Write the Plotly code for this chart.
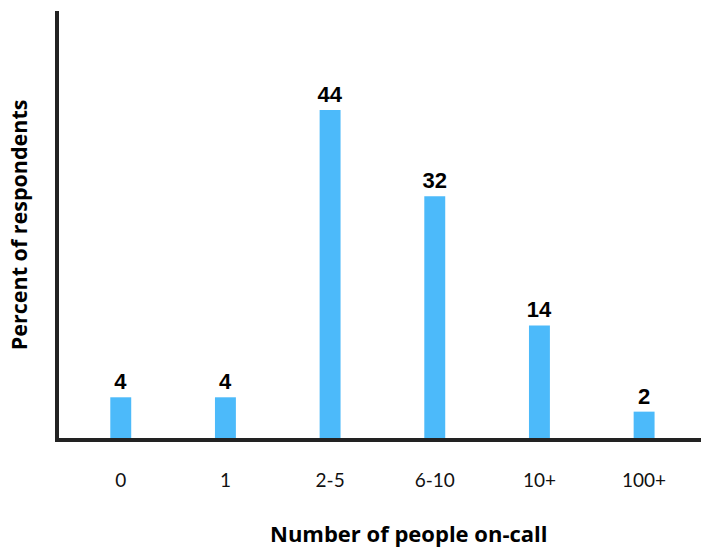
import plotly.graph_objects as go

categories = ["0", "1", "2-5", "6-10", "10+", "100+"]
values = [4, 4, 44, 32, 14, 2]
value_labels = ["4", "4", "44", "32", "14", "2"]

x_title = "Number of people on-call"
y_title = "Percent of respondents"

BASE = -1.67

fig = go.Figure()
fig.add_trace(go.Bar(
    x=categories,
    y=[v - BASE for v in values],
    base=BASE,
    width=0.2,
    marker=dict(color="#4cbafa", line=dict(width=0)),
    text=value_labels,
    textposition="outside",
    constraintext="none",
    textfont=dict(family="Liberation Sans", size=22, color="#000000"),
    texttemplate="<b>%{text}</b>",
    cliponaxis=False,
    hoverinfo="skip",
))

fig.update_layout(
    width=701, height=540,
    margin=dict(l=51, r=0, t=3, b=110),
    paper_bgcolor="white", plot_bgcolor="white",
    showlegend=False,
    xaxis=dict(
        type="category",
        range=[-0.59, 5.62],
        showline=True, linewidth=4, linecolor="#222222",
        showgrid=False, zeroline=False,
        ticks="", ticklabelstandoff=22,
        tickfont=dict(family="Lato", size=19, color="#111111"),
    ),
    yaxis=dict(
        range=[BASE, 57.8],
        showline=True, linewidth=4, linecolor="#222222",
        showgrid=False, zeroline=False,
        showticklabels=False, ticks="",
    ),
    annotations=[
        dict(
            text="<b>" + x_title + "</b>",
            xref="paper", yref="paper", x=0.538, y=-0.222,
            xanchor="center", yanchor="middle", showarrow=False,
            font=dict(family="Open Sans", size=22, color="#000000"),
        ),
        dict(
            text="<b>" + y_title + "</b>",
            xref="paper", yref="paper", x=-0.062, y=0.5,
            xanchor="center", yanchor="middle", showarrow=False,
            textangle=-90, borderpad=0,
            font=dict(family="Open Sans", size=21.5, color="#000000"),
        ),
    ],
)

fig.write_html("out.html")
